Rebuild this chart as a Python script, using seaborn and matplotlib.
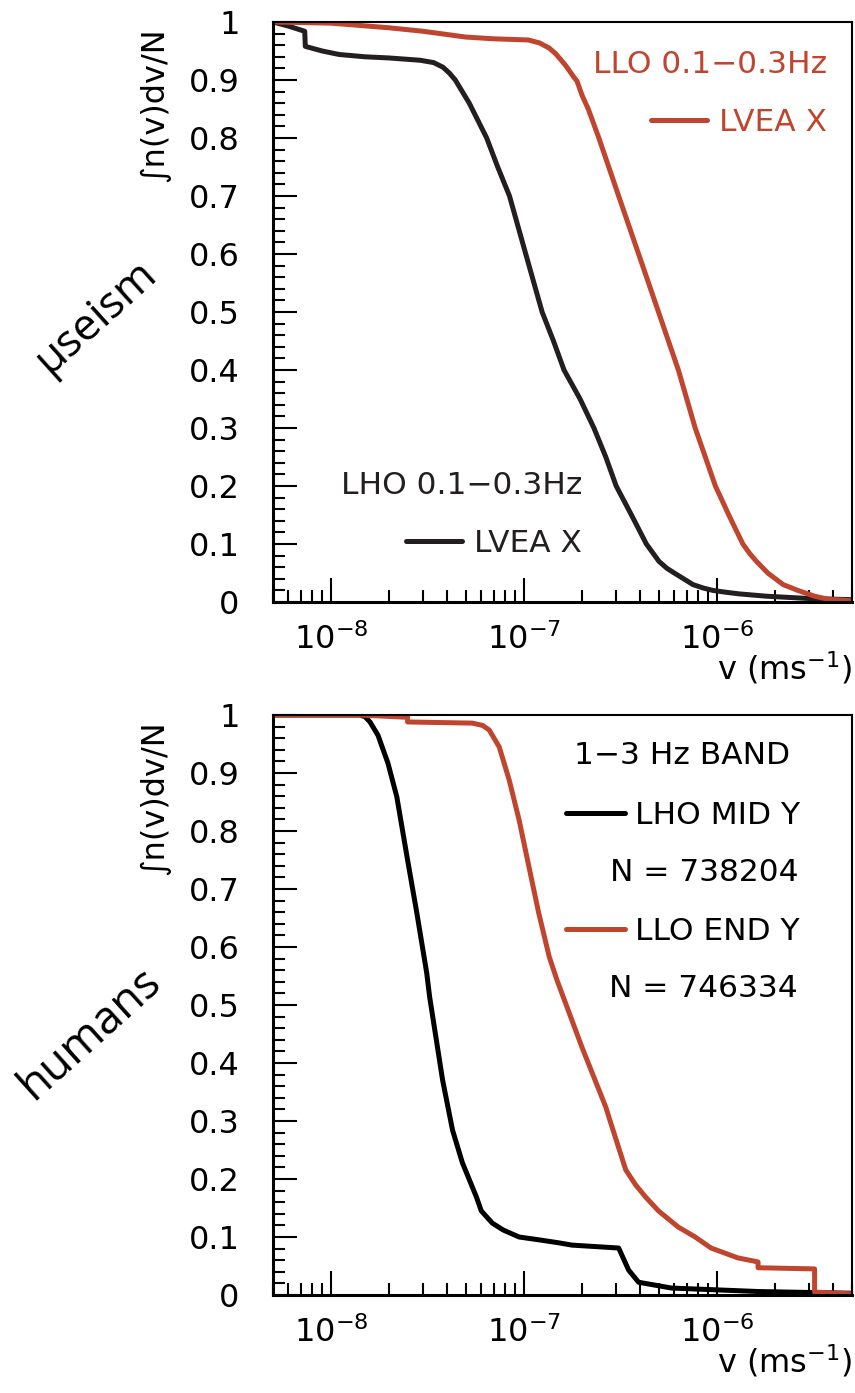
import matplotlib
matplotlib.use("Agg")
import matplotlib.pyplot as plt
import numpy as np
import pandas as pd
import seaborn as sns
from matplotlib.ticker import LogLocator, MultipleLocator, FuncFormatter, NullFormatter

# ---------------- data ----------------
# top panel: microseism band 0.1-0.3 Hz
top_lho_v = [5.0e-9, 6.0e-9, 7.3e-9, 7.35e-9, 9.0e-9, 1.1e-8, 1.5e-8, 2.0e-8, 2.9e-8, 3.4e-8,
             3.8e-8, 4.1e-8, 4.4e-8, 5.2e-8, 6.4e-8, 7.3e-8, 8.4e-8, 1.02e-7, 1.24e-7, 1.42e-7,
             1.61e-7, 1.95e-7, 2.3e-7, 2.65e-7, 3.0e-7, 3.6e-7, 4.3e-7, 5.0e-7, 5.5e-7, 6.0e-7,
             7.5e-7, 8.5e-7, 9.5e-7, 1.1e-6, 1.3e-6, 1.8e-6, 3.0e-6, 5.0e-6]
top_lho_f = [1.0, 0.993, 0.984, 0.958, 0.950, 0.944, 0.940, 0.938, 0.934, 0.930,
             0.922, 0.912, 0.900, 0.860, 0.800, 0.750, 0.700, 0.600, 0.500, 0.450,
             0.400, 0.350, 0.300, 0.250, 0.200, 0.150, 0.100, 0.070, 0.058, 0.050,
             0.030, 0.024, 0.020, 0.017, 0.014, 0.010, 0.006, 0.004]

top_llo_v = [5.0e-9, 1.0e-8, 2.0e-8, 3.0e-8, 5.0e-8, 7.0e-8, 1.05e-7, 1.2e-7, 1.35e-7, 1.45e-7,
             1.55e-7, 1.65e-7, 1.75e-7, 1.8e-7, 1.88e-7, 2.0e-7, 2.15e-7, 2.44e-7, 3.09e-7, 3.92e-7,
             4.97e-7, 6.3e-7, 7.7e-7, 9.8e-7, 1.15e-6, 1.25e-6, 1.36e-6, 1.48e-6, 1.6e-6, 1.83e-6,
             2.2e-6, 2.62e-6, 3.2e-6, 3.73e-6, 5.0e-6]
top_llo_f = [1.0, 0.998, 0.990, 0.984, 0.974, 0.971, 0.969, 0.964, 0.955, 0.946,
             0.935, 0.924, 0.912, 0.906, 0.898, 0.873, 0.850, 0.800, 0.700, 0.600,
             0.500, 0.400, 0.300, 0.200, 0.150, 0.125, 0.100, 0.083, 0.070, 0.050,
             0.030, 0.020, 0.010, 0.005, 0.002]

# bottom panel: 1-3 Hz band (humans)
bot_lho_v = [5.0e-9, 1.41e-8, 1.5e-8, 1.59e-8, 1.75e-8, 1.97e-8, 2.19e-8, 2.47e-8, 2.78e-8, 3.13e-8,
             3.24e-8, 3.78e-8, 4.26e-8, 4.79e-8, 5.66e-8, 6.0e-8, 6.84e-8, 7.8e-8, 9.42e-8, 1.2e-7,
             1.51e-7, 1.77e-7, 3.09e-7, 3.48e-7, 3.92e-7, 5.8e-7, 1.63e-6, 5.0e-6]
bot_lho_f = [1.0, 1.0, 0.997, 0.988, 0.965, 0.917, 0.859, 0.757, 0.659, 0.555,
             0.514, 0.371, 0.284, 0.228, 0.169, 0.145, 0.124, 0.112, 0.100, 0.095,
             0.090, 0.086, 0.081, 0.043, 0.022, 0.012, 0.006, 0.003]

bot_llo_v = [5.0e-9, 1.41e-8, 2.49e-8, 2.49e-8, 5.39e-8, 6.1e-8, 6.6e-8, 7.43e-8, 8.37e-8, 9.42e-8,
             1.06e-7, 1.19e-7, 1.35e-7, 1.48e-7, 1.99e-7, 2.65e-7, 2.81e-7, 3.36e-7, 3.78e-7, 4.26e-7,
             4.97e-7, 6.3e-7, 7.7e-7, 9.3e-7, 1.28e-6, 1.63e-6, 1.63e-6, 3.2e-6, 3.2e-6, 5.0e-6]
bot_llo_f = [1.0, 1.0, 0.996, 0.988, 0.986, 0.982, 0.974, 0.945, 0.888, 0.819,
             0.738, 0.659, 0.583, 0.543, 0.428, 0.324, 0.297, 0.216, 0.190, 0.169,
             0.145, 0.117, 0.100, 0.081, 0.064, 0.057, 0.047, 0.045, 0.005, 0.002]

y_ticks = [0, 0.1, 0.2, 0.3, 0.4, 0.5, 0.6, 0.7, 0.8, 0.9, 1]

RED = "#C0452F"
DARK = "#231F20"
BLACK = "#000000"
FS = 22.5

sns.set_theme(style="white")
plt.rcParams["font.family"] = ["DejaVu Sans"]
plt.rcParams["mathtext.fontset"] = "dejavusans"
plt.rcParams["axes.edgecolor"] = "black"
plt.rcParams["text.color"] = "black"
plt.rcParams["axes.labelcolor"] = "black"
plt.rcParams["xtick.color"] = "black"
plt.rcParams["ytick.color"] = "black"

fig = plt.figure(figsize=(8.55, 13.93), dpi=100)
ax1 = fig.add_axes([273 / 855, (1393 - 602) / 1393, 579 / 855, 580 / 1393])
ax2 = fig.add_axes([273 / 855, (1393 - 1295) / 1393, 579 / 855, 580 / 1393])


def make_df(v1, f1, n1, v2, f2, n2):
    return pd.concat([
        pd.DataFrame({"v": v1, "frac": f1, "series": n1}),
        pd.DataFrame({"v": v2, "frac": f2, "series": n2}),
    ], ignore_index=True)


df_top = make_df(top_lho_v, top_lho_f, "LHO", top_llo_v, top_llo_f, "LLO")
df_bot = make_df(bot_lho_v, bot_lho_f, "LHO", bot_llo_v, bot_llo_f, "LLO")

sns.lineplot(data=df_top, x="v", y="frac", hue="series", hue_order=["LHO", "LLO"],
             palette={"LHO": DARK, "LLO": RED}, estimator=None, sort=False,
             linewidth=3.6, legend=False, ax=ax1)
sns.lineplot(data=df_bot, x="v", y="frac", hue="series", hue_order=["LHO", "LLO"],
             palette={"LHO": BLACK, "LLO": RED}, estimator=None, sort=False,
             linewidth=3.6, legend=False, ax=ax2)


def style(ax):
    ax.set_xscale("log")
    ax.set_xlim(5e-9, 5e-6)
    ax.set_ylim(0, 1)
    ax.set_yticks(y_ticks)
    ax.yaxis.set_major_formatter(FuncFormatter(lambda v, p: f"{v:g}"))
    ax.yaxis.set_minor_locator(MultipleLocator(0.02))
    ax.xaxis.set_major_locator(LogLocator(base=10, numticks=10))
    ax.xaxis.set_minor_locator(LogLocator(base=10, subs=np.arange(2, 10), numticks=20))
    ax.xaxis.set_minor_formatter(NullFormatter())
    ax.tick_params(which="both", direction="in", top=False, right=False,
                   left=True, bottom=True, color="black", width=1.5,
                   labelcolor="black")
    ax.tick_params(which="major", length=17)
    ax.tick_params(which="minor", length=8.5)
    ax.tick_params(axis="y", which="major", labelsize=23, pad=24)
    ax.tick_params(axis="x", which="major", labelsize=23, pad=15)
    for s in ["left", "bottom"]:
        ax.spines[s].set_linewidth(2.2)
    for s in ["top", "right"]:
        ax.spines[s].set_linewidth(1.5)
    for s in ax.spines.values():
        s.set_color("black")
        s.set_visible(True)
    ax.set_xlabel("v (ms$^{-1}$)", loc="right", fontsize=23)
    ax.xaxis.set_label_coords(1.0, -0.082)
    ax.set_ylabel("∫n(v)dv/N", loc="top", fontsize=23)
    ax.yaxis.set_label_coords(-0.178, 0.99)
    ax.grid(False)


style(ax1)
style(ax2)

# ---- top panel legends ----
l1 = ax1.get_lines()
leg_red = ax1.legend(handles=[l1[1]], labels=["LVEA X"], title="LLO 0.1−0.3Hz",
                     loc="upper right", bbox_to_anchor=(0.957, 0.952), frameon=False,
                     borderpad=0, borderaxespad=0, handlelength=1.79, handletextpad=0.38,
                     labelspacing=0.93, fontsize=FS, title_fontsize=FS,
                     alignment="right", labelcolor=RED)
leg_red.get_title().set_color(RED)
ax1.add_artist(leg_red)
leg_blk = ax1.legend(handles=[l1[0]], labels=["LVEA X"], title="LHO 0.1−0.3Hz",
                     loc="upper right", bbox_to_anchor=(0.534, 0.2267), frameon=False,
                     borderpad=0, borderaxespad=0, handlelength=1.79, handletextpad=0.38,
                     labelspacing=0.93, fontsize=FS, title_fontsize=FS,
                     alignment="right", labelcolor=DARK)
leg_blk.get_title().set_color(DARK)

# ---- bottom panel legend ----
l2 = ax2.get_lines()
ax2.legend(handles=[l2[0], l2[1]], labels=["LHO MID Y", "LLO END Y"],
           loc="upper right", bbox_to_anchor=(0.910, 0.851), frameon=False,
           borderpad=0, borderaxespad=0, handlelength=1.89, handletextpad=0.32,
           labelspacing=2.76, fontsize=FS, labelcolor="black")
ax2.text(0.893, 0.931, "1−3 Hz BAND", ha="right", va="center",
         transform=ax2.transAxes, fontsize=FS, color="black")
ax2.text(0.907, 0.729, "N = 738204", ha="right", va="center",
         transform=ax2.transAxes, fontsize=FS, color="black")
ax2.text(0.907, 0.529, "N = 746334", ha="right", va="center",
         transform=ax2.transAxes, fontsize=FS, color="black")

# ---- panel names ----
fig.text(96 / 855, 1 - 317 / 1393, "µseism", rotation=42, fontsize=32,
         family=["Open Sans", "DejaVu Sans"], ha="center", va="center",
         rotation_mode="anchor", color="black")
fig.text(90 / 855, 1 - 1034 / 1393, "humans", rotation=42, fontsize=33,
         family=["Open Sans", "DejaVu Sans"], ha="center", va="center",
         rotation_mode="anchor", color="black")

fig.savefig("out.png", dpi=100)
